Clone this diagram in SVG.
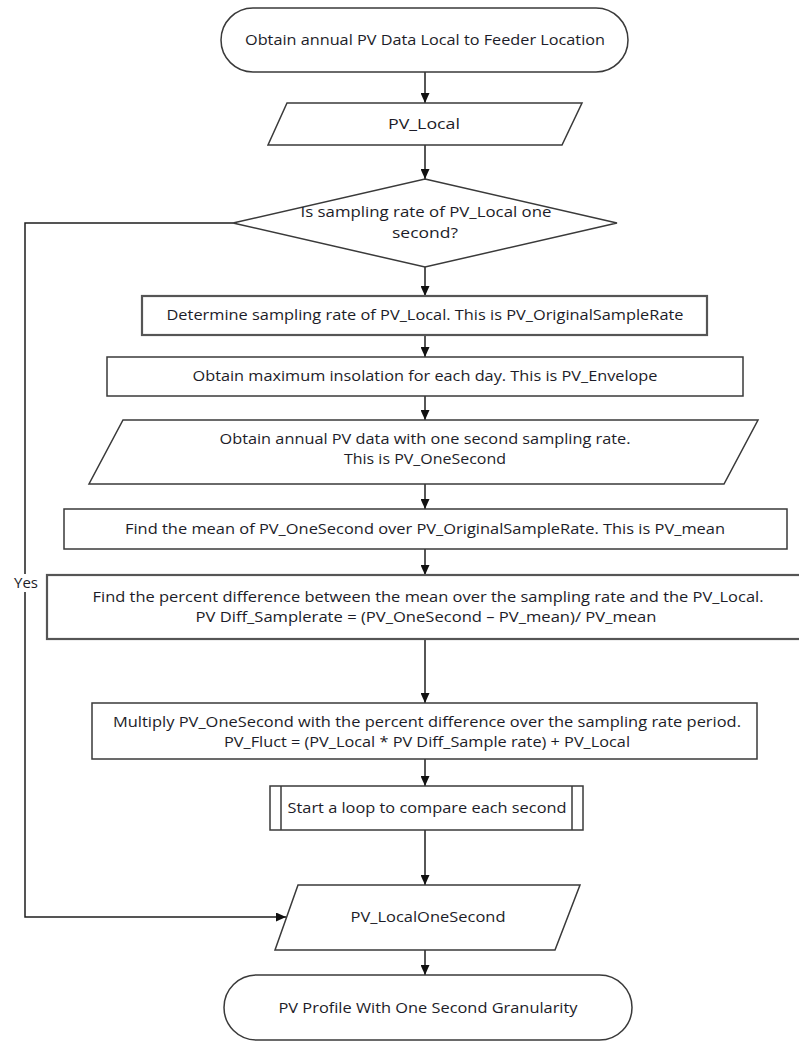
<svg xmlns="http://www.w3.org/2000/svg" width="799" height="1047" viewBox="0 0 799 1047">
  <style>
    .shape { fill: #ffffff; stroke: #3a3a3a; stroke-width: 1.5; }
    .heavy { stroke: #555555; stroke-width: 2.2; }
    .conn { fill: none; stroke: #1e1e1e; stroke-width: 1.5; marker-end: url(#arrow); }
    text { font-family: "Open Sans", "Liberation Sans", sans-serif; font-size: 14px; fill: #1c1c28; text-anchor: middle; }
  </style>
  <defs>
    <marker id="arrow" markerUnits="userSpaceOnUse" markerWidth="10" markerHeight="9" refX="10" refY="4.5" orient="auto">
      <path d="M0,0 L10,4.5 L0,9 z" fill="#111111"/>
    </marker>
  </defs>

  <rect width="799" height="1047" fill="#ffffff"/>

  <!-- connectors -->
  <g id="connectors">
    <line class="conn" x1="425" y1="72" x2="425" y2="103"/>
    <line class="conn" x1="425" y1="145" x2="425" y2="179"/>
    <line class="conn" x1="425" y1="267" x2="425" y2="296"/>
    <line class="conn" x1="425" y1="335" x2="425" y2="357"/>
    <line class="conn" x1="425" y1="396" x2="425" y2="420"/>
    <line class="conn" x1="425" y1="484" x2="425" y2="509"/>
    <line class="conn" x1="425" y1="549" x2="425" y2="575"/>
    <line class="conn" x1="425" y1="639" x2="425" y2="703"/>
    <line class="conn" x1="425" y1="759" x2="425" y2="786"/>
    <line class="conn" x1="425" y1="830" x2="425" y2="885"/>
    <line class="conn" x1="425" y1="950" x2="425" y2="975"/>
    <polyline class="conn" points="233,223 25,223 25,917 286,917"/>
    <g id="label-yes">
      <rect x="12" y="574" width="27" height="18" fill="#ffffff"/>
      <text x="26" y="588" textLength="24" lengthAdjust="spacingAndGlyphs">Yes</text>
    </g>
  </g>

  <!-- start -->
  <g id="start">
    <rect class="shape" x="221" y="8" width="407" height="64" rx="32" ry="32"/>
    <text x="425" y="45" textLength="360" lengthAdjust="spacingAndGlyphs">Obtain annual PV Data Local to Feeder Location</text>
  </g>

  <g id="pv-local">
    <polygon class="shape" points="287,103 582,103 562,145 268,145"/>
    <text x="424" y="129" textLength="72" lengthAdjust="spacingAndGlyphs">PV_Local</text>
  </g>

  <g id="decision">
    <polygon class="shape" points="425,179 617,223 425,267 233,223"/>
    <text x="426" y="217" textLength="251" lengthAdjust="spacingAndGlyphs">Is sampling rate of PV_Local one</text>
    <text x="425" y="238" textLength="66" lengthAdjust="spacingAndGlyphs">second?</text>
  </g>

  <g id="sample-rate">
    <rect class="shape heavy" x="142" y="296" width="565" height="39"/>
    <text x="425" y="320" textLength="517" lengthAdjust="spacingAndGlyphs">Determine sampling rate of PV_Local. This is PV_OriginalSampleRate</text>
  </g>

  <g id="envelope">
    <rect class="shape" x="107" y="357" width="636" height="39"/>
    <text x="425" y="381" textLength="465" lengthAdjust="spacingAndGlyphs">Obtain maximum insolation for each day. This is PV_Envelope</text>
  </g>

  <g id="one-second-data">
    <polygon class="shape" points="123,420 758,420 724,484 89,484"/>
    <text x="425" y="444" textLength="411" lengthAdjust="spacingAndGlyphs">Obtain annual PV data with one second sampling rate.</text>
    <text x="425" y="464" textLength="162" lengthAdjust="spacingAndGlyphs">This is PV_OneSecond</text>
  </g>

  <g id="mean">
    <rect class="shape" x="64" y="509" width="723" height="40"/>
    <text x="425" y="534" textLength="600" lengthAdjust="spacingAndGlyphs">Find the mean of PV_OneSecond over PV_OriginalSampleRate. This is PV_mean</text>
  </g>

  <g id="percent-diff">
    <rect class="shape heavy" x="47" y="575" width="756" height="64"/>
    <text x="428" y="602" textLength="671" lengthAdjust="spacingAndGlyphs">Find the percent difference between the mean over the sampling rate and the PV_Local.</text>
    <text x="426" y="622" textLength="461" lengthAdjust="spacingAndGlyphs">PV Diff_Samplerate = (PV_OneSecond – PV_mean)/ PV_mean</text>
  </g>

  <g id="multiply">
    <rect class="shape" x="92" y="703" width="665" height="56"/>
    <text x="427" y="727" textLength="628" lengthAdjust="spacingAndGlyphs">Multiply PV_OneSecond with the percent difference over the sampling rate period.</text>
    <text x="427" y="747" textLength="406" lengthAdjust="spacingAndGlyphs">PV_Fluct = (PV_Local * PV Diff_Sample rate) + PV_Local</text>
  </g>

  <g id="loop">
    <rect class="shape" x="270" y="786" width="313" height="44"/>
    <line x1="281" y1="786" x2="281" y2="830" stroke="#3a3a3a" stroke-width="1.5"/>
    <line x1="572" y1="786" x2="572" y2="830" stroke="#3a3a3a" stroke-width="1.5"/>
    <text x="427" y="813" textLength="279" lengthAdjust="spacingAndGlyphs">Start a loop to compare each second</text>
  </g>

  <g id="local-one-second">
    <polygon class="shape" points="298,885 580,885 555,950 275,950"/>
    <text x="428" y="922" textLength="155" lengthAdjust="spacingAndGlyphs">PV_LocalOneSecond</text>
  </g>

  <g id="end">
    <rect class="shape" x="224" y="975" width="408" height="65" rx="32.5" ry="32.5"/>
    <text x="428" y="1013" textLength="299" lengthAdjust="spacingAndGlyphs">PV Profile With One Second Granularity</text>
  </g>
</svg>
